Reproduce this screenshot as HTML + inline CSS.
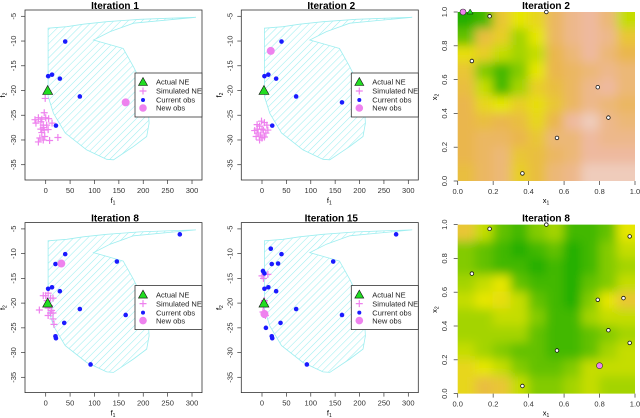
<!DOCTYPE html>
<html><head><meta charset="utf-8"><style>
body{margin:0;background:#fff;}
svg{display:block;font-family:"Liberation Sans",sans-serif;}
</style></head><body>
<svg id="fig" width="640" height="418" viewBox="0 0 640 418" xmlns="http://www.w3.org/2000/svg">
<defs>
<pattern id="hatch" patternUnits="userSpaceOnUse" width="5" height="5" patternTransform="rotate(45)">
<line x1="0" y1="0" x2="0" y2="5" stroke="#9eeef0" stroke-width="1.1"/>
</pattern>
<filter id="blur" x="-20%" y="-20%" width="140%" height="140%"><feGaussianBlur stdDeviation="5"/></filter>
<clipPath id="hm1"><rect x="457.7" y="12" width="177.3" height="169"/></clipPath>
<clipPath id="hm2"><rect x="457.7" y="224.6" width="177.3" height="169"/></clipPath>
</defs>
</svg>
<script>
// ---- data ----
const regionX=[5,43,77,125,193,248,308,180,132,98,145,159,180,200,210,212,207,180,139,125,84,40,16,5];
const regionY=[-7.4,-7.1,-6.6,-6.1,-5.6,-5.4,-5.2,-6.4,-8.1,-9.8,-11.1,-11.5,-15.2,-19.2,-23.3,-26.6,-29.3,-31.3,-34.0,-33.9,-32.0,-28.6,-24.6,-21.2];
const xTicks=[0,50,100,150,200,250,300];
const yTicks=[-5,-10,-15,-20,-25,-30,-35];
const hmTicks=[0,0.2,0.4,0.6,0.8,1.0];
const titles=["Iteration 1","Iteration 2","Iteration 8","Iteration 15"];
const actualNE=[4,-20];
const obs1X=[40,5,13,29,70,21];
const obs1Y=[-10.1,-17.1,-16.8,-17.6,-21.2,-27.1];
const sim1X=[-1,-3,0,-8,-15,-22,-20,-10,-5,2,6,-5,-10,-3,5,13,-8,-2,-12,-15,-5,25,8];
const sim1Y=[-21.6,-24.5,-25.5,-25.8,-25.5,-25.9,-26.6,-26.3,-27.0,-27.0,-25.7,-27.5,-27.8,-28.0,-27.9,-26.6,-28.5,-29.3,-29.6,-30.4,-30.0,-29.5,-30.1];
const new1=[164,-22.4];
const obs2X=[40,5,13,29,70,164,21];
const obs2Y=[-10.1,-17.1,-16.8,-17.6,-21.2,-22.4,-27.1];
const sim2X=[-1,5,10,-5,-10,0,3,-15,-8,8,-3,-12,0,5,-5,12,-10];
const sim2Y=[-26.2,-26.5,-27.0,-27.2,-27.8,-27.8,-28.0,-28.1,-28.6,-28.6,-29.0,-29.3,-29.6,-29.4,-30.0,-28.0,-26.9];
const new2=[18,-12];
const obs8X=[275,40,20,146,5,13,29,70,164,38,20,21,92];
const obs8Y=[-6.1,-10.1,-12.1,-11.6,-17.1,-16.8,-17.6,-21.2,-22.4,-24,-26.7,-27.1,-32.4];
const sim8X=[-13,0,5,-5,10,15,5,10,15,5,15,17,12,8,3];
const sim8Y=[-21.4,-18.5,-18.0,-18.5,-19.0,-19.0,-21.0,-22.0,-22.0,-22.5,-23.2,-24.3,-21.5,-20.5,-19.5];
const new8=[32,-12];
const obs15X=[275,18,40,20,33,146,2,5,5,13,29,4,70,164,38,8,20,21,92];
const obs15Y=[-6.1,-9,-10.1,-12.1,-12,-11.6,-13.5,-14,-17.1,-16.8,-17.6,-22.5,-21.2,-22.4,-24,-25,-26.7,-27.1,-32.4];
const sim15X=[0,12,3,5,3,5,2,7,4];
const sim15Y=[-14.5,-14.2,-15,-19.5,-20.5,-22,-21.8,-22.5,-19.8];
const new15=[5,-22.2];
const hm2Vals=[
[0.05,0.1,0.55,0.35,0.45,0.7,0.8,0.85,0.75,0.3],
[0.15,0.6,0.5,0.25,0.35,0.7,0.8,0.85,0.8,0.55],
[0.4,0.5,0.3,0.25,0.3,0.65,0.75,0.85,0.75,0.65],
[0.55,0.2,0.1,0.2,0.35,0.65,0.7,0.75,0.8,0.75],
[0.6,0.3,0.1,0.25,0.5,0.6,0.7,0.8,0.85,0.75],
[0.65,0.45,0.35,0.5,0.4,0.55,0.7,0.8,0.75,0.7],
[0.65,0.6,0.65,0.6,0.45,0.65,0.85,0.9,0.8,0.75],
[0.65,0.7,0.7,0.65,0.55,0.75,0.75,0.85,0.8,0.8],
[0.65,0.7,0.75,0.55,0.6,0.7,0.75,0.85,0.85,0.85],
[0.6,0.7,0.75,0.5,0.6,0.75,0.8,0.9,0.9,0.9]];
const hm8Vals=[
[0.55,0.3,0.15,0.1,0.2,0.25,0.1,0.1,0.15,0.35],
[0.2,0.15,0.1,0.05,0.1,0.15,0.05,0.1,0.2,0.3],
[0.2,0.15,0.1,0.1,0.05,0.1,0.05,0.1,0.2,0.25],
[0.25,0.3,0.35,0.15,0.1,0.1,0.05,0.15,0.2,0.3],
[0.3,0.35,0.4,0.3,0.15,0.1,0.05,0.2,0.35,0.55],
[0.25,0.25,0.3,0.3,0.2,0.1,0.1,0.25,0.3,0.3],
[0.25,0.25,0.25,0.25,0.15,0.1,0.1,0.15,0.2,0.25],
[0.3,0.25,0.2,0.15,0.15,0.1,0.1,0.15,0.25,0.3],
[0.45,0.35,0.3,0.2,0.15,0.15,0.2,0.3,0.3,0.3],
[0.45,0.6,0.55,0.3,0.2,0.2,0.25,0.3,0.25,0.25]];
const hm2PtsX=[0.18,0.5,0.08,0.79,0.85,0.56,0.365];
const hm2PtsY=[0.975,1.0,0.71,0.555,0.375,0.255,0.045];
const hm8PtsX=[0.18,0.5,0.08,0.79,0.85,0.56,0.365,0.97,0.935,0.97];
const hm8PtsY=[0.975,1.0,0.71,0.555,0.375,0.255,0.045,0.93,0.565,0.3];
const hm2New=[0.03,1.0];
const hm8New=[0.8,0.165];

const NS="http://www.w3.org/2000/svg";
const svg=document.getElementById('fig');
function mk(tag,attrs,parent,text){const e=document.createElementNS(NS,tag);for(const k in attrs)e.setAttribute(k,attrs[k]);if(text!==undefined)e.textContent=text;(parent||svg).appendChild(e);return e;}

function plus(g,x,y){const p=mk('path',{d:`M${x-3.5},${y}H${x+3.5}M${x},${y-3.5}V${y+3.5}`,stroke:'#ee82ee','stroke-width':1.2,fill:'none'},g);

}

function scatterPanel(ox,oy,title,oX,oY,sX,sY,nw){
  const g=mk('g',{},svg);
  
  
  const xs=v=>ox+45.7+v*0.4877, ys=v=>oy+16.3+(-5-v)*4.947;
  const t=mk('text',{x:ox+115,y:oy+9,'text-anchor':'middle','font-size':'10','font-weight':'bold'},g,title);
  
  const pts=regionX.map((x,i)=>xs(x).toFixed(1)+','+ys(regionY[i]).toFixed(1)).join(' ');
  const poly=mk('polygon',{points:pts,fill:'url(#hatch)',stroke:'#9eeef0','stroke-width':0.8},g);
  
  const box=mk('rect',{x:ox+25,y:oy+10,width:177,height:170,fill:'none',stroke:'#333','stroke-width':0.8},g);
  
  xTicks.forEach(v=>{mk('line',{x1:xs(v),x2:xs(v),y1:oy+180,y2:oy+184,stroke:'#333','stroke-width':0.7},g);
    const l=mk('text',{x:xs(v),y:oy+193,'text-anchor':'middle','font-size':'7.5',fill:'#333'},g,String(v));
    });
  yTicks.forEach(v=>{mk('line',{x1:ox+21,x2:ox+25,y1:ys(v),y2:ys(v),stroke:'#333','stroke-width':0.7},g);
    const l=mk('text',{x:ox+16,y:ys(v),'text-anchor':'middle','font-size':'7.5',fill:'#333',transform:`rotate(-90 ${ox+16} ${ys(v)})`},g,String(v));
    });
  const xl=mk('text',{x:ox+113,y:oy+203,'text-anchor':'middle','font-size':'7.5'},g);xl.innerHTML='f<tspan font-size="5" dy="1.5">1</tspan>';
  
  const yl=mk('text',{x:ox+5,y:oy+95,'text-anchor':'middle','font-size':'7.5',transform:`rotate(-90 ${ox+5} ${oy+95})`},g);yl.innerHTML='f<tspan font-size="5" dy="1.5">2</tspan>';
  
  sX.forEach((x,i)=>plus(g,xs(x),ys(sY[i])));
  oX.forEach((x,i)=>{const c=mk('circle',{cx:xs(x),cy:ys(oY[i]),r:2.3,fill:'#1a1aff'},g);
    });
  const ax=xs(actualNE[0]),ay=ys(actualNE[1]);
  const tri=mk('polygon',{points:`${ax},${ay-5} ${ax-5},${ay+4} ${ax+5},${ay+4}`,fill:'#22dd22',stroke:'#111','stroke-width':0.6},g);
  
  const n=mk('circle',{cx:xs(nw[0]),cy:ys(nw[1]),r:4,fill:'#ee82ee'},g);
  
  const lg=mk('g',{},g);
  mk('rect',{x:ox+135,y:oy+73,width:67,height:44,fill:'#fff',stroke:'#333','stroke-width':0.8},lg);
  const lx=ox+143, ly=[oy+82,oy+91,oy+100,oy+108];
  mk('polygon',{points:`${lx},${ly[0]-4.5} ${lx-4.5},${ly[0]+3.5} ${lx+4.5},${ly[0]+3.5}`,fill:'#22dd22',stroke:'#111','stroke-width':0.6},lg);
  plus(lg,lx,ly[1]);
  mk('circle',{cx:lx,cy:ly[2],r:2,fill:'#1a1aff'},lg);
  mk('circle',{cx:lx,cy:ly[3],r:3.8,fill:'#ee82ee'},lg);
  ['Actual NE','Simulated NE','Current obs','New obs'].forEach((s,i)=>{const e=mk('text',{x:ox+156,y:ly[i]+2.7,'font-size':'7.5',fill:'#222'},lg,s);
    });
}

function tcol(v){const st=[[0,[0,166,0]],[0.35,[230,230,0]],[0.65,[234,182,78]],[0.85,[238,185,159]],[1,[242,242,242]]];
  for(let i=1;i<st.length;i++){if(v<=st[i][0]){const a=st[i-1],b=st[i],t=(v-a[0])/(b[0]-a[0]);
    return 'rgb('+a[1].map((c,j)=>Math.round(c+(b[1][j]-c)*t)).join(',')+')';}}return 'rgb(242,242,242)';}

function heatPanel(oy,title,vals,pX,pY,nw,clip,extra){
  const g=mk('g',{},svg);
  const xs=v=>457.7+v*177.3, ys=v=>oy+181-v*169;
  const t=mk('text',{x:546,y:oy+9,'text-anchor':'middle','font-size':'10','font-weight':'bold'},g,title);
  
  const cg=mk('g',{'clip-path':`url(#${clip})`},g);
  const bg=mk('g',{filter:'url(#blur)'},cg);
  const n=vals.length,m=vals[0].length,pad=25;
  vals.forEach((row,r)=>row.forEach((v,c)=>{
    let x0=xs(c/m),x1=xs((c+1)/m),y0=ys(1-r/n),y1=ys(1-(r+1)/n);
    if(c===0)x0-=pad; if(c===m-1)x1+=pad; if(r===0)y0-=pad; if(r===n-1)y1+=pad;
    const rc=mk('rect',{x:x0-0.5,y:y0-0.5,width:x1-x0+1,height:y1-y0+1,fill:tcol(v)},bg);
    }));
  hmTicks.forEach(v=>{mk('line',{x1:xs(v),x2:xs(v),y1:oy+181,y2:oy+185,stroke:'#333','stroke-width':0.7},g);
    const l=mk('text',{x:xs(v),y:oy+194,'text-anchor':'middle','font-size':'7.5',fill:'#333'},g,v.toFixed(1));
    
    mk('line',{x1:453.7,x2:457.7,y1:ys(v),y2:ys(v),stroke:'#333','stroke-width':0.7},g);
    const k=mk('text',{x:447,y:ys(v),'text-anchor':'middle','font-size':'7.5',fill:'#333',transform:`rotate(-90 447 ${ys(v)})`},g,v.toFixed(1));
    });
  const xl=mk('text',{x:546,y:oy+203,'text-anchor':'middle','font-size':'7.5'},g);xl.innerHTML='x<tspan font-size="5" dy="1.5">1</tspan>';
  
  const yl=mk('text',{x:437,y:oy+97,'text-anchor':'middle','font-size':'7.5',transform:`rotate(-90 437 ${oy+97})`},g);yl.innerHTML='x<tspan font-size="5" dy="1.5">2</tspan>';
  
  if(extra){const tr=mk('polygon',{points:`${xs(0.07)},${ys(1)-3} ${xs(0.07)-3},${ys(1)+2} ${xs(0.07)+3},${ys(1)+2}`,fill:'#22dd22',stroke:'#111','stroke-width':0.5},g);
    }
  pX.forEach((x,i)=>{const c=mk('circle',{cx:xs(x),cy:ys(pY[i]),r:1.8,fill:'#fff',stroke:'#111','stroke-width':0.8},g);
    });
  const nc=mk('circle',{cx:xs(nw[0]),cy:ys(nw[1]),r:3,fill:'#ee82ee',stroke:'#333','stroke-width':0.6},g);
  
}

scatterPanel(0,0,titles[0],obs1X,obs1Y,sim1X,sim1Y,new1);
scatterPanel(216.3,0,titles[1],obs2X,obs2Y,sim2X,sim2Y,new2);
scatterPanel(0,212.6,titles[2],obs8X,obs8Y,sim8X,sim8Y,new8);
scatterPanel(216.3,212.6,titles[3],obs15X,obs15Y,sim15X,sim15Y,new15);
heatPanel(0,"Iteration 2",hm2Vals,hm2PtsX,hm2PtsY,hm2New,'hm1',true);
heatPanel(212.6,"Iteration 8",hm8Vals,hm8PtsX,hm8PtsY,hm8New,'hm2',false);
</script>
</body></html>
